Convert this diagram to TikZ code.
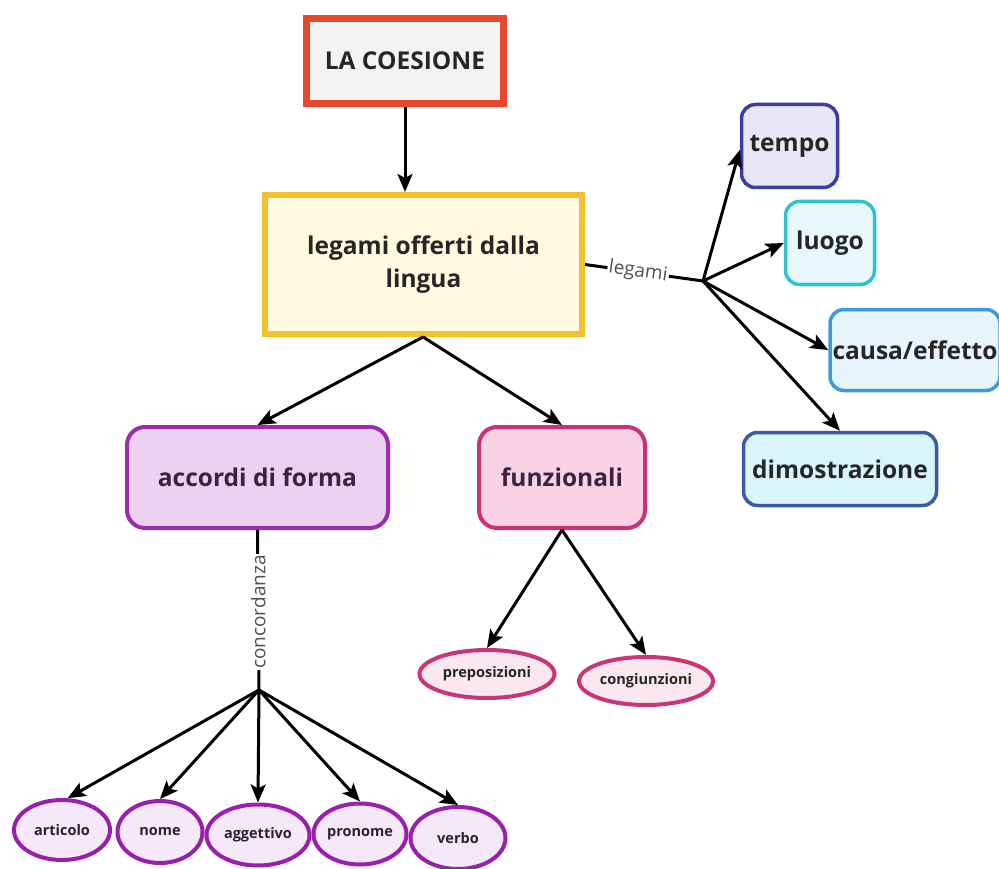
\documentclass[tikz,border=0pt]{standalone}
\usepackage{fontspec}
\setmainfont{Open Sans}
\usetikzlibrary{arrows.meta,shapes.geometric}
\definecolor{txt}{HTML}{262626}
\definecolor{ptxt}{HTML}{3A2340}
\definecolor{redb}{HTML}{E8472B}
\definecolor{redf}{HTML}{F3F3F3}
\definecolor{yelb}{HTML}{F2C12E}
\definecolor{yelf}{HTML}{FFFADF}
\definecolor{tempb}{HTML}{3D3DAA}
\definecolor{tempf}{HTML}{E7E7F8}
\definecolor{luob}{HTML}{2EC2CF}
\definecolor{luof}{HTML}{E8F9FB}
\definecolor{caub}{HTML}{3C9BDB}
\definecolor{cauf}{HTML}{E7F4FC}
\definecolor{dimb}{HTML}{3A5BA8}
\definecolor{dimf}{HTML}{D8F6FA}
\definecolor{accb}{HTML}{9C2DB0}
\definecolor{accf}{HTML}{EDD1F2}
\definecolor{funb}{HTML}{CB3079}
\definecolor{funf}{HTML}{F9D3E3}
\definecolor{pelb}{HTML}{9A1FAD}
\definecolor{pelf}{HTML}{F5E8F8}
\definecolor{kelb}{HTML}{C93577}
\definecolor{kelf}{HTML}{FBE7F0}
\definecolor{lblc}{HTML}{505050}
\begin{document}
\begin{tikzpicture}[x=1pt,y=-1pt,
  box/.style={draw, rectangle, align=center, text=txt, inner sep=0pt,
    font=\bfseries\fontsize{24.5}{33}\selectfont},
  rbox/.style={box, rounded corners=14pt, line width=3.5pt},
  ell/.style={draw, ellipse, text=txt, inner sep=0pt, line width=4pt,
    font=\bfseries\fontsize{14.5}{16}\selectfont},
  arr/.style={line width=3pt, -{Stealth[length=18pt,width=15pt,inset=4pt]}},
  conn/.style={line width=3pt},
  lbl/.style={fill=white, text=lblc, inner sep=1.5pt, font=\fontsize{19}{20}\selectfont}]
\fill[white] (0,0) rectangle (999,869);
\useasboundingbox (0,0) rectangle (999,869);

% main boxes
\node[box, draw=redb, fill=redf, line width=7pt, minimum width=197pt, minimum height=85pt] (coes) at (405,61) {LA COESIONE};
\node[box, draw=yelb, fill=yelf, line width=6pt, minimum width=317pt, minimum height=139pt] (ling) at (423.5,264.5) {legami offerti dalla\\lingua};

% right side
\node[rbox, draw=tempb, fill=tempf, minimum width=96pt, minimum height=83pt] (tempo) at (789.5,146) {tempo};
\node[rbox, draw=luob, fill=luof, minimum width=89pt, minimum height=83pt] (luogo) at (830,243) {luogo};
\node[rbox, draw=caub, fill=cauf, minimum width=170pt, minimum height=81pt] (causa) at (915,350) {causa/effetto};
\node[rbox, draw=dimb, fill=dimf, minimum width=193pt, minimum height=73pt] (dimo) at (840,469) {dimostrazione};

% middle boxes
\node[rbox, draw=accb, fill=accf, text=ptxt, line width=4pt, rounded corners=18pt, minimum width=261pt, minimum height=101pt] (acc) at (257.5,477.5) {accordi di forma};
\node[rbox, draw=funb, fill=funf, text=ptxt, line width=4pt, rounded corners=18pt, minimum width=166pt, minimum height=101pt] (funz) at (562,477.5) {funzionali};

% ellipses
\node[ell, draw=kelb, fill=kelf, minimum width=135pt, minimum height=48pt] (prep) at (487,674) {preposizioni};
\node[ell, draw=kelb, fill=kelf, minimum width=134pt, minimum height=48pt] (cong) at (646,681) {congiunzioni};

\node[ell, draw=pelb, fill=pelf, minimum width=96pt, minimum height=60pt] (art) at (62,830) {articolo};
\node[ell, draw=pelb, fill=pelf, minimum width=85pt, minimum height=62pt] (nome) at (160,832) {nome};
\node[ell, draw=pelb, fill=pelf, minimum width=103pt, minimum height=61pt] (agg) at (258,835) {aggettivo};
\node[ell, draw=pelb, fill=pelf, minimum width=92pt, minimum height=61pt] (pron) at (360,834) {pronome};
\node[ell, draw=pelb, fill=pelf, minimum width=95pt, minimum height=62pt] (verb) at (458,838) {verbo};

% hubs
\coordinate (lhub) at (703,281);
\coordinate (chub) at (259,690);
\coordinate (lbot) at (423,337);

% connectors
\draw[arr] (coes.south) -- (coes.south |- ling.north);
\draw[arr] (lbot) -- (acc.north);
\draw[arr] (lbot) -- (funz.north);

\draw[conn] (ling.east) -- node[lbl, sloped, pos=0.45] {legami} (lhub);
\draw[arr] (lhub) -- ([yshift=-4pt]tempo.west);
\draw[arr] (lhub) -- (luogo.west);
\draw[arr] (lhub) -- (causa.west);
\draw[arr] (lhub) -- (dimo.north);

\draw[conn] (acc.south) -- (chub);
\node[lbl, rotate=90] (conc) at (258.3,612) {concordanza};
\draw[arr] (chub) -- (art.80);
\draw[arr] (chub) -- (nome.north);
\draw[arr] (chub) -- (agg.north);
\draw[arr] (chub) -- (pron.north);
\draw[arr] (chub) -- (verb.north);

\draw[arr] (funz.south) -- (prep.north);
\draw[arr] (funz.south) -- (cong.north);
\end{tikzpicture}
\end{document}
